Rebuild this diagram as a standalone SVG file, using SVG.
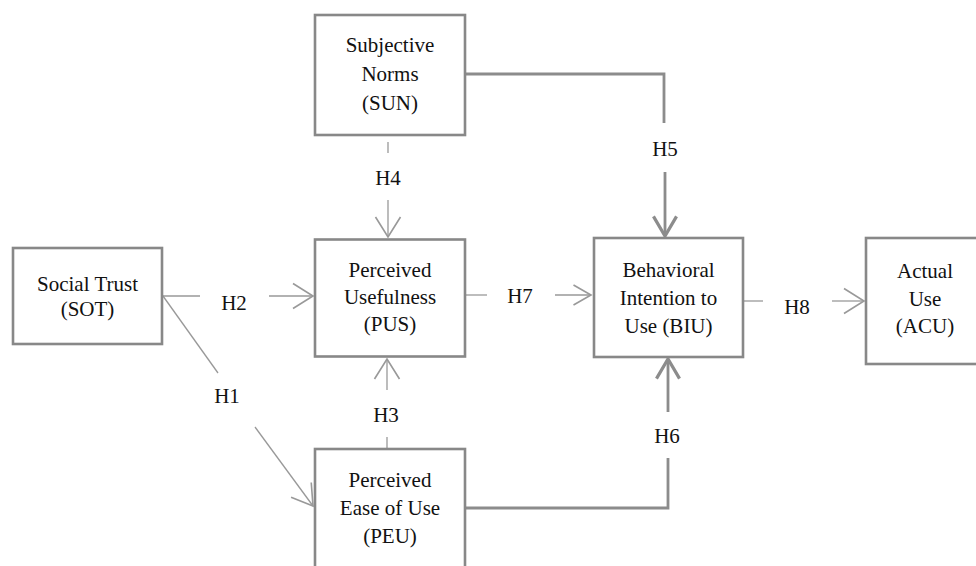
<svg xmlns="http://www.w3.org/2000/svg" width="976" height="566" viewBox="0 0 976 566">
<style>
.box{fill:#fff;stroke:#888;stroke-width:2.6}
.t{font-family:'Liberation Serif',Tinos,'Times New Roman','DejaVu Serif',serif;font-size:21px;fill:#111;text-anchor:middle}
.thin{fill:none;stroke:#999;stroke-width:1.3}
.thick{fill:none;stroke:#8c8c8c;stroke-width:2.8}
</style>
<defs>
<marker id="ah" markerUnits="userSpaceOnUse" markerWidth="30" markerHeight="30" viewBox="-20 -12 22 24" refX="0" refY="0" orient="auto">
<path d="M-16,-10 L0,0 L-16,10" fill="none" stroke="#999" stroke-width="1.3"/>
</marker>
<marker id="ahs" markerUnits="userSpaceOnUse" markerWidth="30" markerHeight="30" viewBox="-20 -12 22 24" refX="0" refY="0" orient="auto">
<path d="M-14,-8 L0,0 L-14,8" fill="none" stroke="#999" stroke-width="1.3"/>
</marker>
<marker id="ahk" markerUnits="userSpaceOnUse" markerWidth="30" markerHeight="30" viewBox="-22 -13 24 26" refX="0" refY="0" orient="auto">
<path d="M-17,-10 L0,0 L-17,10" fill="none" stroke="#8c8c8c" stroke-width="2.8"/>
</marker>
</defs>

<g id="connectors">
<path class="thin" d="M163,296 L218,373"/>
<path class="thin" d="M255,427 L313,506" marker-end="url(#ah)"/>
<path class="thin" d="M163,296 H200"/>
<path class="thin" d="M269,296 H313" marker-end="url(#ah)"/>
<path class="thin" d="M387,448 V437"/>
<path class="thin" d="M387,390 V359" marker-end="url(#ah)"/>
<path class="thin" d="M388,142 V153"/>
<path class="thin" d="M388,200 V237" marker-end="url(#ah)"/>
<path class="thick" d="M466,74 H664 V123"/>
<path class="thick" d="M665,172 V236" marker-end="url(#ahk)"/>
<path class="thick" d="M466,508 H668 V458"/>
<path class="thick" d="M668,412 V359" marker-end="url(#ahk)"/>
<path class="thin" d="M466,295 H487"/>
<path class="thin" d="M555,295 H591" marker-end="url(#ahs)"/>
<path class="thin" d="M744,301 H763"/>
<path class="thin" d="M832,301 H864" marker-end="url(#ah)"/>
<text class="t" x="227" y="403">H1</text>
<text class="t" x="234" y="310">H2</text>
<text class="t" x="386" y="422">H3</text>
<text class="t" x="388" y="185">H4</text>
<text class="t" x="665" y="156">H5</text>
<text class="t" x="667" y="443">H6</text>
<text class="t" x="520" y="303">H7</text>
<text class="t" x="797" y="314">H8</text>
</g>

<g id="SUN">
<rect class="box" x="315" y="15" width="150" height="120"/>
<text class="t" x="390" y="52">Subjective</text>
<text class="t" x="390" y="81">Norms</text>
<text class="t" x="390" y="110">(SUN)</text>
</g>
<g id="SOT">
<rect class="box" x="13" y="248" width="149" height="96"/>
<text class="t" x="87.5" y="291">Social Trust</text>
<text class="t" x="87.5" y="316">(SOT)</text>
</g>
<g id="PUS">
<rect class="box" x="315" y="239.5" width="150" height="117"/>
<text class="t" x="390" y="277">Perceived</text>
<text class="t" x="390" y="304">Usefulness</text>
<text class="t" x="390" y="331">(PUS)</text>
</g>
<g id="BIU">
<rect class="box" x="594" y="238" width="149" height="119"/>
<text class="t" x="668.5" y="277">Behavioral</text>
<text class="t" x="668.5" y="305">Intention to</text>
<text class="t" x="668.5" y="333">Use (BIU)</text>
</g>
<g id="ACU">
<rect class="box" x="866" y="238" width="130" height="126"/>
<text class="t" x="925" y="278">Actual</text>
<text class="t" x="925" y="306">Use</text>
<text class="t" x="925" y="333">(ACU)</text>
</g>
<g id="PEU">
<rect class="box" x="315" y="449" width="150" height="130"/>
<text class="t" x="390" y="487">Perceived</text>
<text class="t" x="390" y="515">Ease of Use</text>
<text class="t" x="390" y="543">(PEU)</text>
</g>
</svg>
